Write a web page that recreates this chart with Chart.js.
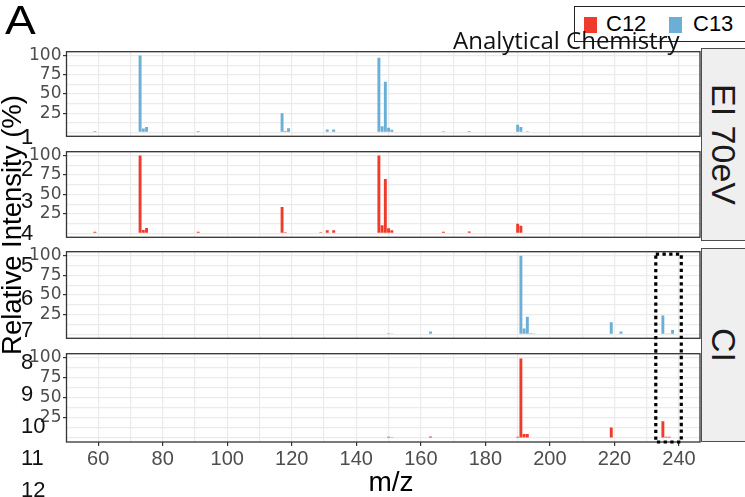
<!DOCTYPE html>
<html>
<head>
<meta charset="utf-8">
<script src="https://cdn.jsdelivr.net/npm/chart.js@4.4.1/dist/chart.umd.min.js"></script>
<style>
  html, body { margin: 0; padding: 0; background: #fff; }
  #fig { position: relative; width: 745px; height: 497px; overflow: hidden;
         font-family: "Liberation Sans", Arial, sans-serif; }
  canvas.painel { position: absolute; left: 0; }
  #sobre { position: absolute; left: 0; top: 0; pointer-events: none; z-index: 5; }
  .faixa { position: absolute; left: 701px; width: 46px; background: #EFEFEF;
           border: 1px solid #4D4D4D; border-right: none; box-sizing: border-box;
           display: flex; align-items: center; justify-content: center; }
  .faixa span { writing-mode: vertical-rl; font-size: 34px; color: #1A1A1A;
                white-space: nowrap; line-height: 1; margin-right: 2px; }
  #titulo-y { position: absolute; left: 12px; top: 225px; font-size: 27.5px; line-height: 1;
              white-space: nowrap; transform: translate(-50%, -50%) rotate(-90deg); color: #000; }
  #titulo-x { position: absolute; left: 391px; top: 482px; font-size: 28px; line-height: 1;
              transform: translate(-50%, -50%); color: #000; }
  #letra { position: absolute; left: 5px; top: 0px; font-size: 40px; line-height: 1; color: #000;
           transform-origin: left top; transform: scaleX(1.15); }
  #revista { position: absolute; left: 453px; top: 28px; font-family: "Open Sans", sans-serif;
             font-size: 24px; line-height: 1; color: #111; white-space: nowrap; z-index: 4; }
  #legenda { position: absolute; left: 574px; top: 6px; width: 172px; height: 36px;
             border: 1.3px solid #222; background: #fff; box-sizing: border-box; z-index: 3; }
  #legenda div { position: absolute; }
  #legenda .txt { font-size: 22px; line-height: 1; top: 6px; color: #000; }
  .linha { position: absolute; left: 21px; font-size: 22px; line-height: 1; color: #111;
           transform: translateY(-50%); z-index: 6; }
</style>
</head>
<body>
<div id="fig">
  <canvas id="p1" class="painel" width="701" height="108" style="top:40px"></canvas>
  <canvas id="p2" class="painel" width="701" height="109" style="top:140px"></canvas>
  <canvas id="p3" class="painel" width="701" height="110" style="top:240px"></canvas>
  <canvas id="p4" class="painel" width="701" height="155" style="top:342px"></canvas>
  <div class="faixa" style="top:48px;height:193px"><span id="f1"></span></div>
  <div class="faixa" style="top:248px;height:194px"><span id="f2"></span></div>
  <div id="titulo-y">Relative Intensity (%)</div>
  <div id="titulo-x">m/z</div>
  <div id="letra">A</div>
  <div id="legenda"></div>
  <div id="revista">Analytical Chemistry</div>
  <canvas id="sobre" width="745" height="497"></canvas>
</div>
<script>
// Eixos
const X_MIN = 50.2, X_MAX = 246.5;
const X_GRADE = [60, 70, 80, 90, 100, 110, 120, 130, 140, 150, 160, 170, 180, 190, 200, 210, 220, 230, 240];
const X_TICKS = [60, 80, 100, 120, 140, 160, 180, 200, 220, 240];
const Y_MIN = -5, Y_MAX = 105;
const Y_GRADE = [0, 12.5, 25, 37.5, 50, 62.5, 75, 87.5, 100];
const Y_TICKS = [25, 50, 75, 100];

// Séries e faixas
const SERIES = ['C12', 'C13'];
const CORES = { C12: '#EF3B2C', C13: '#6BAED6' };
const FAIXAS = ['EI 70eV', 'CI'];

// EI 70eV - C13
const ei_c13_mz  = [59, 73, 74, 75, 91, 115, 117, 118, 119, 129, 131, 133, 147, 148, 149, 150, 151, 167, 175, 190, 191, 193];
const ei_c13_int = [2, 100, 5, 7, 2, 1, 25, 2, 5.5, 1, 4, 4, 97, 8, 66, 6, 3.5, 1.5, 2, 10, 7, 1.5];

// EI 70eV - C12
const ei_c12_mz  = [59, 73, 74, 75, 91, 117, 118, 119, 129, 131, 133, 147, 148, 149, 150, 151, 167, 175, 190, 191, 219];
const ei_c12_int = [2, 100, 4.5, 7, 2, 34, 1.5, 1, 1.5, 4, 4, 100, 10.5, 70, 6.5, 4, 2, 2.5, 12.5, 10, 1];

// CI - C13
const ci_c13_mz  = [150, 151, 163, 190, 191, 192, 193, 194, 195, 219, 220, 222, 235, 236, 237, 238];
const ci_c13_int = [1.5, 1, 3.5, 0.7, 100, 7.5, 22.5, 1.5, 1, 15.5, 0.7, 3.5, 24, 1, 1, 5.5];

// CI - C12
const ci_c12_mz  = [150, 151, 163, 190, 191, 192, 193, 219, 235, 236, 237];
const ci_c12_int = [1.5, 1, 2, 1.5, 99, 5, 5, 13, 21, 1.5, 1.5];

// Caixa pontilhada (m/z e intensidade)
const CAIXA_MZ = [232.8, 240.7];
const CAIXA_Y = [102, -5];

// Numeração de linhas do manuscrito
const NUMEROS_LINHA = ['1', '2', '3', '4', '5', '6', '7', '8', '9', '10', '11', '12'];

const paineis = [
    { id: 'p1', mz: ei_c13_mz, val: ei_c13_int, serie: 'C13', eixo: false },
    { id: 'p2', mz: ei_c12_mz, val: ei_c12_int, serie: 'C12', eixo: false },
    { id: 'p3', mz: ci_c13_mz, val: ci_c13_int, serie: 'C13', eixo: false },
    { id: 'p4', mz: ci_c12_mz, val: ci_c12_int, serie: 'C12', eixo: true }
];

// Cor do traço de marcação: só nos ticks com rótulo
const corTick = lista => c => (c.tick && lista.includes(c.tick.value)) ? '#333333' : 'rgba(0,0,0,0)';

// Moldura do painel
const moldura = {
    id: 'moldura',
    afterDraw(chart) {
        const { ctx, chartArea: a } = chart;
        ctx.save();
        ctx.strokeStyle = '#333333';
        ctx.lineWidth = 1.3;
        ctx.strokeRect(a.left, a.top, a.right - a.left, a.bottom - a.top);
        ctx.restore();
    }
};

function criarPainel(p) {
    const pontos = p.mz.map((m, i) => ({ x: m, y: p.val[i] }));
    return new Chart(document.getElementById(p.id), {
        type: 'bar',
        data: {
            datasets: [{
                label: p.serie,
                data: pontos,
                backgroundColor: CORES[p.serie],
                borderWidth: 0,
                categoryPercentage: 1,
                barPercentage: 0.9
            }]
        },
        options: {
            responsive: false,
            animation: false,
            events: [],
            layout: { padding: { top: 8, bottom: p.eixo ? 0 : 8, left: 0, right: 1 } },
            plugins: { legend: { display: false }, tooltip: { enabled: false } },
            scales: {
                x: {
                    type: 'linear',
                    min: X_MIN,
                    max: X_MAX,
                    offset: false,
                    afterBuildTicks: s => { s.ticks = X_GRADE.map(v => ({ value: v })); },
                    afterFit: s => { s.height = p.eixo ? 55 : 0; },
                    border: { display: false },
                    grid: {
                        offset: false,
                        color: '#EBEBEB',
                        lineWidth: 1.2,
                        drawTicks: p.eixo,
                        tickLength: 4,
                        tickColor: corTick(X_TICKS)
                    },
                    ticks: {
                        display: p.eixo,
                        autoSkip: false,
                        maxRotation: 0,
                        padding: 1,
                        color: '#4D4D4D',
                        font: { family: 'Liberation Sans', size: 20 },
                        callback: v => X_TICKS.includes(v) ? String(v) : ''
                    }
                },
                y: {
                    min: Y_MIN,
                    max: Y_MAX,
                    afterBuildTicks: s => { s.ticks = Y_GRADE.map(v => ({ value: v })); },
                    afterFit: s => { s.width = 66.5; },
                    border: { display: false },
                    grid: {
                        color: '#EBEBEB',
                        lineWidth: 1.2,
                        tickLength: 3.5,
                        tickColor: corTick(Y_TICKS)
                    },
                    ticks: {
                        autoSkip: false,
                        padding: 1.5,
                        color: '#4D4D4D',
                        font: { family: 'DejaVu Sans', size: 17 },
                        callback: v => Y_TICKS.includes(v) ? String(v) : ''
                    }
                }
            }
        },
        plugins: [moldura]
    });
}

const graficos = paineis.map(criarPainel);

// Faixas laterais
document.getElementById('f1').textContent = FAIXAS[0];
document.getElementById('f2').textContent = FAIXAS[1];

// Legenda
const legenda = document.getElementById('legenda');
const posLeg = [{ q: 9, t: 31 }, { q: 94, t: 118 }];
SERIES.forEach((s, i) => {
    const q = document.createElement('div');
    q.style.cssText = `left:${posLeg[i].q}px;top:10px;width:13px;height:16px;background:${CORES[s]}`;
    const t = document.createElement('div');
    t.className = 'txt';
    t.style.left = posLeg[i].t + 'px';
    t.textContent = s;
    legenda.appendChild(q);
    legenda.appendChild(t);
});

// Numeração de linhas
const fig = document.getElementById('fig');
NUMEROS_LINHA.forEach((n, i) => {
    const d = document.createElement('div');
    d.className = 'linha';
    d.style.top = (137 + 32.1 * i) + 'px';
    d.textContent = n;
    fig.appendChild(d);
});

// Caixa pontilhada sobre os painéis CI
const g3 = graficos[2], g4 = graficos[3];
const top3 = g3.canvas.offsetTop, top4 = g4.canvas.offsetTop;
const x0 = g4.scales.x.getPixelForValue(CAIXA_MZ[0]);
const x1 = g4.scales.x.getPixelForValue(CAIXA_MZ[1]);
const y0 = top3 + g3.scales.y.getPixelForValue(CAIXA_Y[0]);
const y1 = top4 + g4.scales.y.getPixelForValue(CAIXA_Y[1]);
const ctx = document.getElementById('sobre').getContext('2d');
ctx.strokeStyle = '#000';
ctx.lineWidth = 3.2;
ctx.setLineDash([3.3, 3.4]);
ctx.strokeRect(x0, y0, x1 - x0, y1 - y0);
</script>
</body>
</html>
